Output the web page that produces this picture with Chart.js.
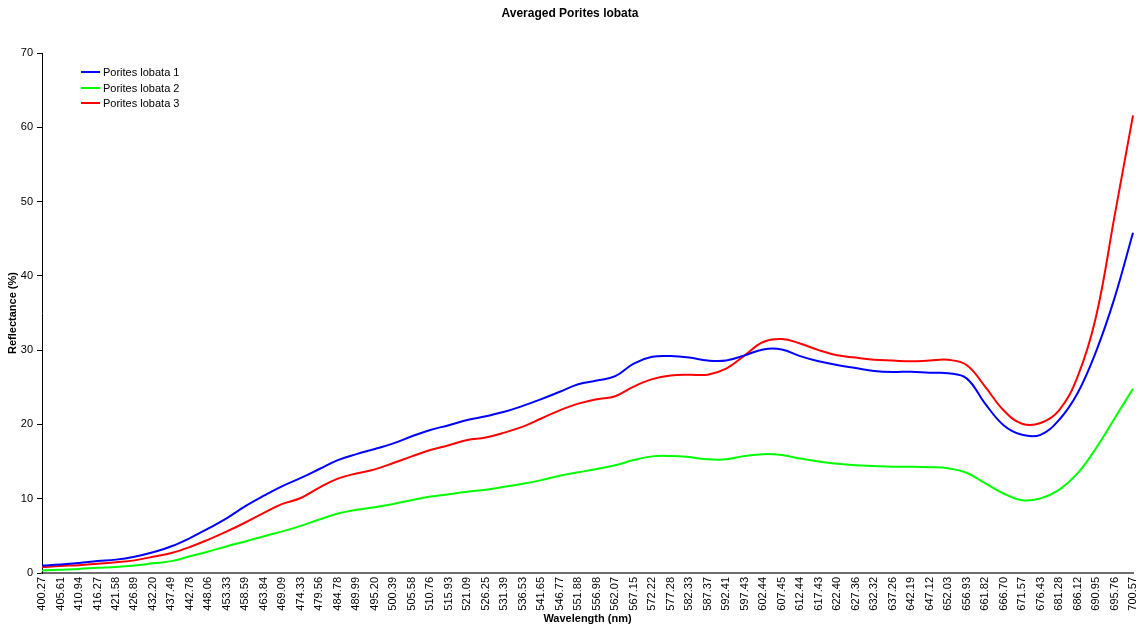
<!DOCTYPE html>
<html>
<head>
<meta charset="utf-8">
<script src="https://cdn.jsdelivr.net/npm/chart.js@4.4.1/dist/chart.umd.min.js"></script>
<style>
  html, body { margin: 0; padding: 0; background: #fff; }
  #wrap { position: relative; width: 1140px; height: 630px; }
  #title { position: absolute; left: 0; width: 1140px; top: 6px; text-align: center;
           font: bold 12px "Liberation Sans", Arial, sans-serif; color: #000; }
  #legend { position: absolute; left: 81px; top: 65px; font: 11px "Liberation Sans", Arial, sans-serif; color: #000; }
  .li { height: 15.5px; line-height: 15px; white-space: nowrap; }
  .sw { display: inline-block; width: 19px; height: 0; border-top: 2px solid; vertical-align: middle; margin-right: 3px; position: relative; top: -1px; }
</style>
</head>
<body>
<div id="wrap">
  <canvas id="c" width="1140" height="630"></canvas>
  <div id="title"></div>
  <div id="legend"></div>
</div>
<script>
const chartTitle = "Averaged Porites lobata";
const xTitle = "Wavelength (nm)";
const yTitle = "Reflectance (%)";

const wavelengths = ["400.27","405.61","410.94","416.27","421.58","426.89","432.20","437.49","442.78","448.06",
  "453.33","458.59","463.84","469.09","474.33","479.56","484.78","489.99","495.20","500.39",
  "505.58","510.76","515.93","521.09","526.25","531.39","536.53","541.65","546.77","551.88",
  "556.98","562.07","567.15","572.22","577.28","582.33","587.37","592.41","597.43","602.44",
  "607.45","612.44","617.43","622.40","627.36","632.32","637.26","642.19","647.12","652.03",
  "656.93","661.82","666.70","671.57","676.43","681.28","686.12","690.95","695.76","700.57"];

const seriesNames = ["Porites lobata 1", "Porites lobata 2", "Porites lobata 3"];
const seriesColors = ["#0000FF", "#00FF00", "#FF0000"];

const lobata1 = [1.0,1.15,1.35,1.6,1.8,2.2,2.8,3.6,4.7,6.0,
  7.4,9.0,10.4,11.7,12.8,14.0,15.2,16.0,16.7,17.45,
  18.4,19.25,19.9,20.6,21.1,21.7,22.5,23.4,24.4,25.4,
  25.9,26.5,28.2,29.1,29.2,29.0,28.6,28.6,29.3,30.1,
  30.1,29.2,28.5,28.0,27.6,27.2,27.05,27.1,26.95,26.9,
  26.2,22.8,19.9,18.6,18.6,20.6,24.2,29.8,37.0,45.8];

const lobata2 = [0.35,0.45,0.55,0.7,0.8,1.0,1.3,1.6,2.25,2.9,
  3.6,4.25,4.95,5.6,6.35,7.2,8.0,8.5,8.85,9.3,
  9.8,10.3,10.6,10.95,11.2,11.6,12.0,12.5,13.1,13.55,
  14.0,14.5,15.2,15.7,15.75,15.6,15.3,15.3,15.75,16.0,
  15.9,15.4,15.0,14.7,14.5,14.4,14.3,14.3,14.25,14.1,
  13.5,12.1,10.7,9.8,10.05,11.2,13.4,16.8,20.8,24.8];

const lobata3 = [0.8,0.95,1.05,1.25,1.45,1.7,2.2,2.7,3.5,4.5,
  5.6,6.8,8.1,9.3,10.1,11.5,12.7,13.4,13.95,14.8,
  15.7,16.55,17.2,17.9,18.25,18.9,19.7,20.8,21.9,22.8,
  23.4,23.8,25.1,26.1,26.6,26.7,26.7,27.5,29.3,31.1,
  31.5,30.9,30.0,29.3,29.0,28.7,28.6,28.5,28.6,28.7,
  28.0,25.1,21.9,20.1,20.2,21.9,26.4,34.5,48.0,61.6];

const yMin = 0, yMax = 70, yStep = 10;

const FONT = '"Liberation Sans", Arial, sans-serif';
const values = [lobata1, lobata2, lobata3];

document.getElementById('title').textContent = chartTitle;
const leg = document.getElementById('legend');
seriesNames.forEach((n, i) => {
  const d = document.createElement('div'); d.className = 'li';
  const s = document.createElement('span'); s.className = 'sw'; s.style.borderTopColor = seriesColors[i];
  d.appendChild(s); d.appendChild(document.createTextNode(n));
  leg.appendChild(d);
});

new Chart(document.getElementById('c'), {
  type: 'line',
  data: {
    labels: wavelengths,
    datasets: seriesNames.map((n, i) => ({
      label: n, data: values[i], borderColor: seriesColors[i], backgroundColor: seriesColors[i],
      borderWidth: 2, pointRadius: 0, tension: 0.4, fill: false
    }))
  },
  options: {
    responsive: false, animation: false, devicePixelRatio: 1,
    layout: { padding: { top: 53, right: 7, bottom: 0, left: 0 } },
    plugins: { legend: { display: false }, title: { display: false }, tooltip: { enabled: false } },
    scales: {
      x: {
        type: 'category', offset: false,
        grid: { display: false, drawTicks: false },
        border: { display: true, color: '#6e6e6e', width: 2 },
        ticks: { autoSkip: false, maxRotation: 90, minRotation: 90, padding: 4, color: '#000', font: { family: FONT, size: 11 } },
        title: { display: true, text: xTitle, color: '#000', font: { family: FONT, size: 11, weight: 'bold' }, padding: { top: 2, bottom: 4 } },
        afterFit: s => { s.height = 57; s.paddingLeft = 0; s.paddingRight = 0; }
      },
      y: {
        min: yMin, max: yMax,
        grid: { drawOnChartArea: false, drawTicks: true, tickLength: 5, color: '#000' },
        border: { display: true, color: '#000', width: 1 },
        ticks: { stepSize: yStep, padding: 4, color: '#000', font: { family: FONT, size: 11 } },
        title: { display: true, text: yTitle, color: '#000', font: { family: FONT, size: 11, weight: 'bold' }, padding: { top: 6, bottom: 4 } },
        afterFit: s => { s.width = 42; }
      }
    }
  }
});
</script>
</body>
</html>
